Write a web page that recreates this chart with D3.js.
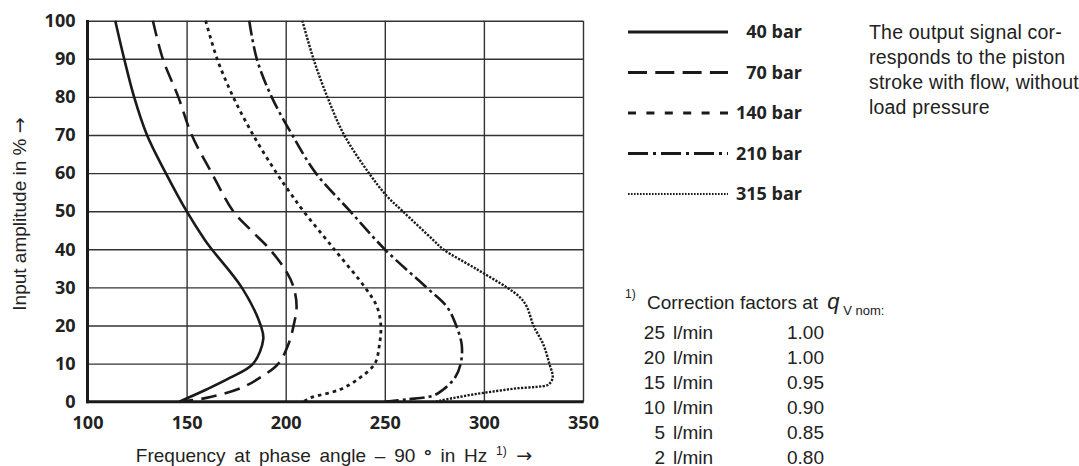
<!DOCTYPE html>
<html>
<head>
<meta charset="utf-8">
<script src="https://cdn.jsdelivr.net/npm/d3@7"></script>
<style>
body { margin: 0; background: #fff; }
text { fill: #222; }
.bold { font-family: "Open Sans", sans-serif; font-weight: 700; font-size: 18px; }
.plain { font-family: "Liberation Sans", Arial, sans-serif; font-size: 19px; }
.arrow { font-family: "DejaVu Sans", sans-serif; }
.grid line { stroke: #333; stroke-width: 1.4; }
.grid path { display: none; }
</style>
</head>
<body>
<svg id="chart" width="1079" height="466"></svg>
<script>
// tick values
var xTicks = [100, 150, 200, 250, 300, 350];
var yTicks = [0, 10, 20, 30, 40, 50, 60, 70, 80, 90, 100];

// series names
var pressures = ["40 bar", "70 bar", "140 bar", "210 bar", "315 bar"];

// curves: amplitude (%) and frequency (Hz)
var amp40  = [100, 90, 80, 70, 60, 50, 42.4, 40, 30, 20, 16.5, 10, 6.3, 3.2, 0];
var freq40 = [114, 118.5, 123.5, 130, 139.5, 150, 159.3, 162.7, 177.8, 187.4, 188.7, 183.6, 172, 160, 146.3];

var amp70  = [100, 90, 80, 70, 60, 50, 45, 40, 34, 30, 25, 20, 15, 10, 6.3, 3.5, 1, 0];
var freq70 = [133, 138, 145.8, 152.6, 162.7, 173.5, 182.5, 192, 200.5, 204, 205.5, 204, 201.3, 196.3, 187, 177, 160, 147];

var amp140  = [100, 90, 80, 70, 60, 55, 50, 40, 30, 25, 20, 15, 10, 6.3, 3.2, 1, 0];
var freq140 = [159.6, 165.4, 173.5, 183.6, 195.4, 202, 209, 224.5, 240, 246, 248, 247.3, 245, 237.5, 227.4, 212.3, 209];

var amp210  = [100, 90, 80, 70, 60, 50, 40, 30, 25, 20, 15, 10, 6.3, 3.2, 1.6, 0.6, 0];
var freq210 = [181.6, 185.4, 192.9, 203.3, 215.2, 232.5, 250, 271, 281.2, 286, 288.8, 288.3, 285.4, 279.5, 274.5, 261, 250];

var amp315  = [100, 90, 80, 70, 60, 54, 50, 42.4, 40, 34.8, 30, 27.4, 25, 20, 15, 10, 6.3, 4.5, 3.9, 3.5, 2.8, 1.9, 1, 0.3, 0];
var freq315 = [208.4, 214, 221, 229.5, 242, 251, 259, 274.5, 279.5, 296.3, 311.5, 318.2, 321.6, 325, 330, 333, 334.7, 332.5, 326.6, 316.5, 306.4, 294.6, 285, 278, 276];

// footnote table
var flowRates = ["25", "20", "15", "10", "5", "2"];
var factors = ["1.00", "1.00", "0.95", "0.90", "0.85", "0.80"];

// description text
var noteLines = ["The output signal cor-", "responds to the piston", "stroke with flow, without", "load pressure"];

var series = [
    { name: pressures[0], amp: amp40, freq: freq40 },
    { name: pressures[1], amp: amp70, freq: freq70 },
    { name: pressures[2], amp: amp140, freq: freq140 },
    { name: pressures[3], amp: amp210, freq: freq210 },
    { name: pressures[4], amp: amp315, freq: freq315 }
];

// line looks: in plot and in legend
var plotDash = [null, "16,8", "3.5,4", "15,4,3,4", "2.2,1.4"];
var legendDash = [null, "19,8.3", "8,10.4", "20,5,3,5", "1.6,1.4"];
var plotWidth = [2.6, 2.6, 2.8, 2.6, 2.4];
var legendWidth = [3, 3, 3, 3, 2];

var margin = { top: 20.7, left: 87.5 };
var width = 495.5, height = 381;

var svg = d3.select("#chart");

var x = d3.scaleLinear().domain([100, 350]).range([margin.left, margin.left + width]);
var y = d3.scaleLinear().domain([0, 100]).range([margin.top + height, margin.top]);

// grid
svg.append("g")
    .attr("class", "grid")
    .attr("transform", "translate(0," + (margin.top + height) + ")")
    .call(d3.axisBottom(x).tickValues(xTicks).tickSize(-height).tickFormat(""));
svg.append("g")
    .attr("class", "grid")
    .attr("transform", "translate(" + margin.left + ",0)")
    .call(d3.axisLeft(y).tickValues(yTicks).tickSize(-width).tickFormat(""));

// heavy left & bottom axis lines
svg.append("line")
    .attr("x1", x(100)).attr("x2", x(100))
    .attr("y1", y(100) - 0.7).attr("y2", y(0) + 1.5)
    .attr("stroke", "#1a1a1a").attr("stroke-width", 3);
svg.append("line")
    .attr("x1", x(100) - 1.5).attr("x2", x(350) + 0.7)
    .attr("y1", y(0)).attr("y2", y(0))
    .attr("stroke", "#1a1a1a").attr("stroke-width", 3);

// tick labels
var gx = svg.append("g")
    .attr("transform", "translate(0," + (margin.top + height) + ")")
    .call(d3.axisBottom(x).tickValues(xTicks).tickSize(0).tickPadding(15));
var gy = svg.append("g")
    .attr("transform", "translate(" + margin.left + ",0)")
    .call(d3.axisLeft(y).tickValues(yTicks).tickSize(0).tickPadding(12));
[gx, gy].forEach(function (g) {
    g.select(".domain").remove();
    g.selectAll("text")
        .attr("class", "bold")
        .attr("fill", "#222");
    g.attr("font-size", null).attr("font-family", null);
});

// curves
var line = d3.line()
    .x(function (d) { return x(d[1]); })
    .y(function (d) { return y(d[0]); })
    .curve(d3.curveCatmullRom.alpha(0.5));

series.forEach(function (s, i) {
    var pts = s.amp.map(function (a, k) { return [a, s.freq[k]]; });
    svg.append("path")
        .datum(pts)
        .attr("d", line)
        .attr("fill", "none")
        .attr("stroke", "#1a1a1a")
        .attr("stroke-width", plotWidth[i])
        .attr("stroke-dasharray", plotDash[i]);
});

// axis titles
var yt = svg.append("text")
    .attr("class", "plain")
    .attr("transform", "translate(26,214) rotate(-90)")
    .attr("text-anchor", "middle");
yt.append("tspan").text("Input amplitude in % ");
yt.append("tspan").attr("class", "arrow").text("\u2192");

var xt = svg.append("text")
    .attr("class", "plain")
    .attr("x", 334).attr("y", 462)
    .attr("text-anchor", "middle")
    .style("word-spacing", "3.5px");
xt.append("tspan").text("Frequency at phase angle \u2013 90 ");
xt.append("tspan").attr("font-weight", 700).text("\u00b0");
xt.append("tspan").text(" in Hz ");
xt.append("tspan").style("font-size", "12px").attr("dy", -7).text("1)");
xt.append("tspan").attr("class", "arrow").attr("dy", 7).text(" \u2192");

// legend
var legend = svg.append("g");
series.forEach(function (s, i) {
    var ly = 32 + i * 40.5;
    legend.append("line")
        .attr("x1", 628).attr("x2", 728)
        .attr("y1", ly).attr("y2", ly)
        .attr("stroke", "#1a1a1a")
        .attr("stroke-width", legendWidth[i])
        .attr("stroke-dasharray", legendDash[i]);
    legend.append("text")
        .attr("class", "bold")
        .attr("x", 802).attr("y", ly)
        .attr("dy", "0.36em")
        .attr("text-anchor", "end")
        .text(s.name);
});

// note
svg.append("g").selectAll("text")
    .data(noteLines)
    .enter().append("text")
    .attr("class", "plain")
    .style("font-size", "19.5px")
    .style("letter-spacing", "0.2px")
    .attr("x", 869)
    .attr("y", function (d, i) { return 38.5 + i * 25; })
    .text(function (d) { return d; });

// footnote
svg.append("text")
    .attr("class", "plain")
    .attr("x", 625).attr("y", 298)
    .style("font-size", "12px")
    .text("1)");
var ft = svg.append("text")
    .attr("class", "plain")
    .attr("x", 647).attr("y", 308.5);
ft.append("tspan").text("Correction factors at ");
ft.append("tspan").attr("dx", 4).attr("font-style", "italic").style("font-size", "22px").text("q");
ft.append("tspan").style("font-size", "13px").attr("dy", 6).text(" V nom:");

var rows = svg.append("g");
flowRates.forEach(function (f, i) {
    var ry = 338.5 + i * 25;
    rows.append("text").attr("class", "plain")
        .attr("x", 665).attr("y", ry).attr("text-anchor", "end").text(f);
    rows.append("text").attr("class", "plain")
        .attr("x", 673).attr("y", ry).text("l/min");
    rows.append("text").attr("class", "plain")
        .attr("x", 787).attr("y", ry).text(factors[i]);
});
</script>
</body>
</html>
